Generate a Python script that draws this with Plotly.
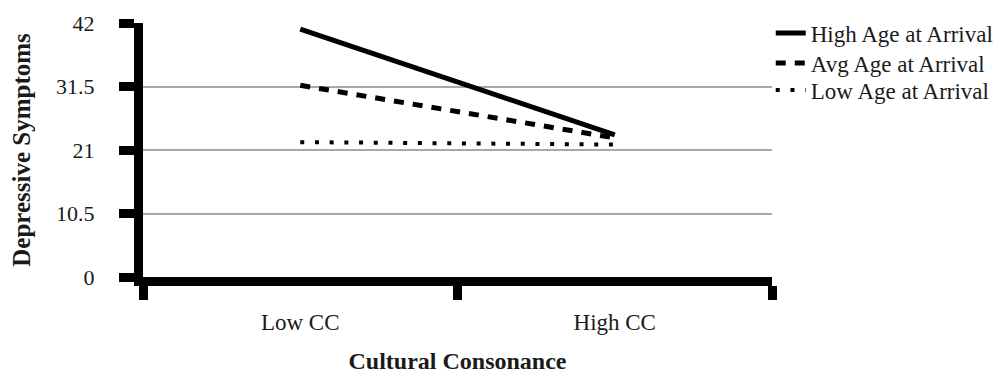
import plotly.graph_objects as go

categories = ["Low CC", "High CC"]
high_age = [41.0, 23.5]
avg_age = [31.7, 23.0]
low_age = [22.3, 21.9]
y_ticks = [0, 10.5, 21, 31.5, 42]
y_tick_labels = ["0", "10.5", "21", "31.5", "42"]

FONT = "Liberation Serif"
TXT = "#1a1a1a"

fig = go.Figure()
fig.add_trace(go.Scatter(x=categories, y=high_age, mode="lines", name="High Age at Arrival",
                         legend="legend",
                         line=dict(color="black", width=5, dash="solid")))
fig.add_trace(go.Scatter(x=categories, y=avg_age, mode="lines", name="Avg Age at Arrival",
                         legend="legend2",
                         line=dict(color="black", width=5, dash="10px,9px")))
fig.add_trace(go.Scatter(x=categories, y=low_age, mode="lines", name="Low Age at Arrival",
                         legend="legend3",
                         line=dict(color="black", width=4, dash="4px,10.7px")))

leg_common = dict(x=0.998, xanchor="left", yanchor="middle", bgcolor="rgba(0,0,0,0)",
                  font=dict(family=FONT, size=23, color=TXT), itemwidth=30)

fig.update_layout(
    width=996, height=368,
    margin=dict(l=135, r=232, t=15, b=99, autoexpand=False),
    paper_bgcolor="white", plot_bgcolor="white",
    font=dict(family=FONT, size=22, color=TXT),
    showlegend=True,
    legend=dict(y=0.960, **leg_common),
    legend2=dict(y=0.8425, **leg_common),
    legend3=dict(y=0.736, **leg_common),
    xaxis=dict(
        type="category", range=[-0.5, 1.5], tickson="boundaries",
        showline=True, linecolor="black", linewidth=9,
        ticks="outside", ticklen=14, tickwidth=9, tickcolor="black",
        showgrid=False, zeroline=False, automargin=False,
        ticklabelstandoff=16,
        tickfont=dict(family=FONT, size=23, color=TXT),
        title=dict(text="<b>Cultural Consonance</b>", standoff=22,
                   font=dict(family=FONT, size=24, color=TXT)),
    ),
    yaxis=dict(
        range=[0, 42], tickvals=y_ticks, ticktext=y_tick_labels,
        showline=True, linecolor="black", linewidth=9,
        ticks="outside", ticklen=15, tickwidth=9, tickcolor="black",
        showgrid=True, gridcolor="#a8a8a8", gridwidth=2, zeroline=False,
        automargin=False,
        ticklabelstandoff=20,
        tickfont=dict(family=FONT, size=22, color=TXT),
        title=dict(text="<b>Depressive Symptoms</b>", standoff=23,
                   font=dict(family=FONT, size=25, color=TXT)),
    ),
)

fig.write_html("out.html")
